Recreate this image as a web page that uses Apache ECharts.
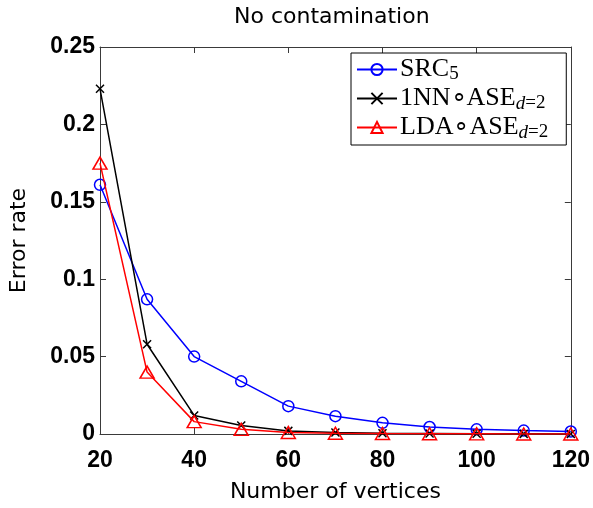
<!DOCTYPE html>
<html>
<head>
<meta charset="utf-8">
<script src="https://cdn.jsdelivr.net/npm/echarts@6/dist/echarts.min.js"></script>
<style>
html,body{margin:0;padding:0;background:#fff;}
#chart{width:593px;height:508px;}
</style>
</head>
<body>
<div id="chart"></div>
<script>
var vertices = [20, 30, 40, 50, 60, 70, 80, 90, 100, 110, 120];
var src5 = [0.161, 0.087, 0.050, 0.034, 0.018, 0.0115, 0.0072, 0.0045, 0.003, 0.0022, 0.0016];
var nnAse = [0.223, 0.058, 0.012, 0.0055, 0.002, 0.001, 0.0005, 0.0003, 0.0002, 0.0001, 0.0];
var ldaAse = [0.175, 0.040, 0.008, 0.003, 0.001, 0.0005, 0.0003, 0.0002, 0.0001, 0.0, 0.0];
var seriesNames = ['SRC5', '1NN∘ASEd=2', 'LDA∘ASEd=2'];
var legendMain = ['SRC', '1NN∘ASE', 'LDA∘ASE'];
var legendSubItalic = ['', 'd', 'd'];
var legendSub = ['5', '=2', '=2'];
var xTicks = [20, 40, 60, 80, 100, 120];
var yTicks = [0, 0.05, 0.1, 0.15, 0.2, 0.25];

function pairs(ys) { return vertices.map(function (x, i) { return [x, ys[i]]; }); }

var chart = echarts.init(document.getElementById('chart'), null, {renderer: 'canvas'});
var axisColor = '#3a3a3a';
var tickFont = {fontFamily: 'Liberation Sans', fontSize: 23, fontWeight: 'bold', color: '#000'};

function xAx(pos, showLabel) {
  return {
    type: 'value', position: pos, min: xTicks[0], max: xTicks[xTicks.length - 1],
    interval: xTicks[1] - xTicks[0],
    axisLine: {show: true, onZero: false, lineStyle: {color: axisColor, width: 1}},
    axisTick: {show: true, inside: true, length: 6, lineStyle: {color: axisColor}},
    axisLabel: Object.assign({show: showLabel, margin: 15}, tickFont),
    splitLine: {show: false},
    name: showLabel ? 'Number of vertices' : '',
    nameLocation: 'middle', nameGap: 47,
    nameTextStyle: {fontFamily: 'DejaVu Sans', fontSize: 22, color: '#000'}
  };
}
function yAx(pos, showLabel) {
  return {
    type: 'value', position: pos, min: yTicks[0], max: yTicks[yTicks.length - 1],
    interval: yTicks[1] - yTicks[0],
    axisLine: {show: true, onZero: false, lineStyle: {color: axisColor, width: 1}},
    axisTick: {show: true, inside: true, length: 6, lineStyle: {color: axisColor}},
    axisLabel: Object.assign({show: showLabel, margin: 5, padding: [5, 0, 0, 0]}, tickFont),
    splitLine: {show: false},
    name: showLabel ? 'Error rate' : '',
    nameLocation: 'middle', nameGap: 70, nameRotate: 90,
    nameTextStyle: {fontFamily: 'DejaVu Sans', fontSize: 22, color: '#000'}
  };
}

var styles = [
  {color: '#0000ff', symbol: 'circle', size: 11},
  {color: '#000000', symbol: 'path://M0,0L10,10M10,0L0,10', size: 8},
  {color: '#ff0000', symbol: 'triangle', size: [14, 12]}
];
var dataSets = [src5, nnAse, ldaAse];

var series = dataSets.map(function (d, i) {
  var s = styles[i];
  return {
    name: seriesNames[i], type: 'line', data: pairs(d),
    xAxisIndex: 0, yAxisIndex: 0,
    symbol: s.symbol, symbolSize: s.size, showAllSymbol: true,
    lineStyle: {color: s.color, width: 1.5},
    itemStyle: {color: 'rgba(0,0,0,0)', borderColor: s.color, borderWidth: 1.5},
    emphasis: {disabled: true},
    z: 2 + i
  };
});

var subBase = {fontFamily: 'Liberation Serif', fontSize: 19, color: '#000', padding: [10, 0, 0, 0], lineHeight: 14};

chart.setOption({
  animation: false,
  backgroundColor: '#fff',
  title: {
    text: 'No contamination', left: 234, top: 6, padding: 0,
    textStyle: {fontFamily: 'DejaVu Sans', fontSize: 22, fontWeight: 'normal', color: '#000'}
  },
  grid: {left: 96, right: 22, top: 47, bottom: 70, containLabel: false},
  xAxis: [xAx('bottom', true), xAx('top', false)],
  yAxis: [yAx('left', true), yAx('right', false)],
  legend: {
    orient: 'vertical', left: 351, top: 53,
    padding: [2, 18, 3, 5],
    itemWidth: 40, itemHeight: 14, itemGap: 0,
    backgroundColor: '#fff', borderColor: '#000', borderWidth: 1,
    data: seriesNames,
    formatter: function (name) {
      var i = seriesNames.indexOf(name);
      var t = '{m|' + legendMain[i] + '}';
      if (legendSubItalic[i]) t += '{si|' + legendSubItalic[i] + '}';
      return t + '{s|' + legendSub[i] + '}';
    },
    textStyle: {
      fontFamily: 'Liberation Serif', fontSize: 26, color: '#000', padding: [0, 0, 0, -2],
      rich: {
        m: {fontFamily: 'Liberation Serif', fontSize: 26, color: '#000', lineHeight: 24},
        s: Object.assign({}, subBase),
        si: Object.assign({}, subBase, {fontStyle: 'italic'})
      }
    }
  },
  series: series
});
</script>
</body>
</html>
